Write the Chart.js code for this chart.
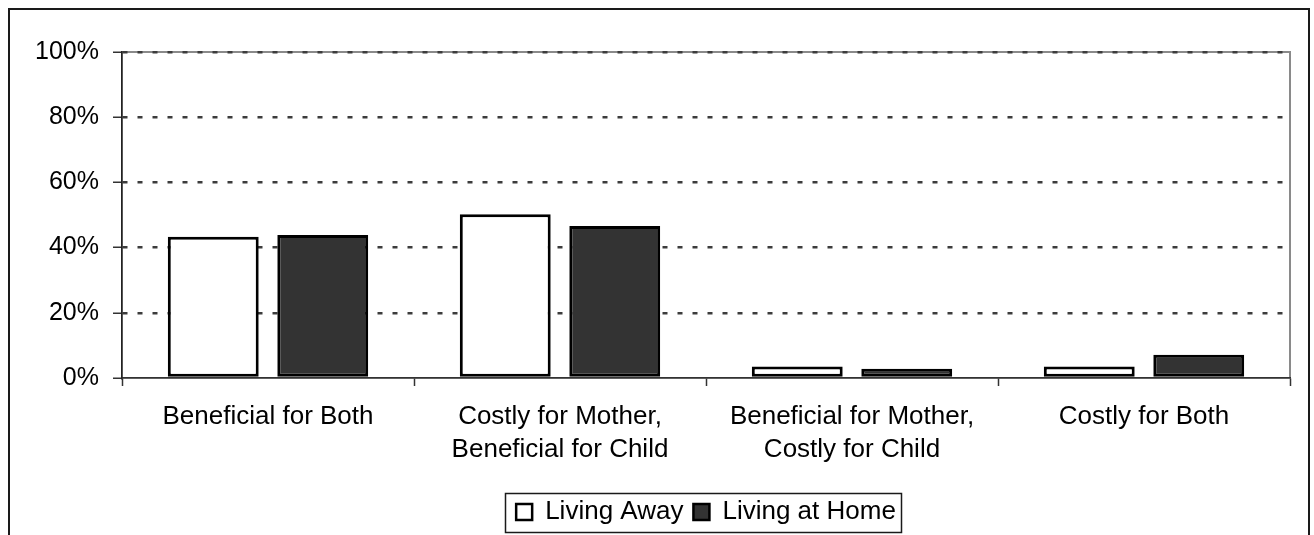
<!DOCTYPE html>
<html>
<head>
<meta charset="utf-8">
<style>
  html, body { margin: 0; padding: 0; background: #fff; overflow: hidden; }
  #wrap { width: 1314px; height: 535px; position: relative; }
</style>
<script src="https://cdn.jsdelivr.net/npm/chart.js@4/dist/chart.umd.min.js"></script>
</head>
<body>
<div id="wrap"><canvas id="c" width="1314" height="535"></canvas></div>
<script>
// Categories (multi-line labels) and shares in percent
const categories = [
  ['Beneficial for Both'],
  ['Costly for Mother,', 'Beneficial for Child'],
  ['Beneficial for Mother,', 'Costly for Child'],
  ['Costly for Both']
];
const seriesNames = ['Living Away', 'Living at Home'];
const livingAway = [43.3, 50.2, 3.5, 3.5];
const livingAtHome = [43.9, 46.6, 2.8, 7.1];
const yTicks = [0, 20, 40, 60, 80, 100];

const FAMILY = "'Liberation Sans', Arial, sans-serif";

// Outer frame, plot-area frame and the box around the legend
const framePlugin = {
  id: 'frames',
  beforeDraw(chart) {
    const { ctx, chartArea: a } = chart;
    ctx.save();
    ctx.strokeStyle = '#8a8a8a';
    ctx.lineWidth = 2;
    ctx.strokeRect(a.left, a.top, a.right - a.left, a.bottom - a.top);
    ctx.restore();
  },
  afterDraw(chart) {
    const { ctx } = chart;
    ctx.save();
    // outer border (open at the bottom edge of the canvas)
    ctx.strokeStyle = '#1a1a1a';
    ctx.lineWidth = 2;
    ctx.beginPath();
    ctx.moveTo(9, 540);
    ctx.lineTo(9, 9);
    ctx.lineTo(1309, 9);
    ctx.lineTo(1309, 540);
    ctx.stroke();
    // legend box
    const lg = chart.legend;
    if (lg && lg.legendHitBoxes && lg.legendHitBoxes.length) {
      const hb = lg.legendHitBoxes;
      const l = Math.min(...hb.map(h => h.left)) - 11;
      const r = Math.max(...hb.map(h => h.left + h.width)) + 5;
      ctx.strokeStyle = '#1a1a1a';
      ctx.lineWidth = 1.5;
      ctx.strokeRect(Math.round(l) + 0.5, lg.top + 4.5, Math.round(r - l), 39);
    }
    ctx.restore();
  }
};

new Chart(document.getElementById('c'), {
  type: 'bar',
  data: {
    labels: categories,
    datasets: [
      {
        label: seriesNames[0],
        data: livingAway,
        backgroundColor: '#ffffff',
        borderColor: '#000000',
        borderWidth: 3,
        borderSkipped: false,
        categoryPercentage: 0.75,
        barPercentage: 0.83
      },
      {
        label: seriesNames[1],
        data: livingAtHome,
        backgroundColor: '#333333',
        borderColor: '#000000',
        borderWidth: 3,
        borderSkipped: false,
        categoryPercentage: 0.75,
        barPercentage: 0.83
      }
    ]
  },
  options: {
    responsive: false,
    animation: false,
    events: [],
    layout: { padding: { left: 0, right: 24, top: 52, bottom: 0 } },
    plugins: {
      tooltip: { enabled: false },
      legend: {
        position: 'bottom',
        align: 'center',
        fullSize: false,
        labels: {
          color: '#000',
          font: { family: FAMILY, size: 26 },
          boxWidth: 16,
          boxHeight: 16,
          padding: 10,
          generateLabels(chart) {
            return chart.data.datasets.map((ds, i) => ({
              text: ds.label,
              fillStyle: ds.backgroundColor,
              strokeStyle: '#000',
              lineWidth: 2.5,
              datasetIndex: i,
              fontColor: '#000'
            }));
          }
        }
      }
    },
    scales: {
      x: {
        offset: true,
        grid: {
          display: true,
          offset: true,
          drawOnChartArea: false,
          drawTicks: true,
          tickLength: 8,
          tickColor: '#333',
          tickWidth: 1.5
        },
        border: { display: true, color: '#333', width: 1.5 },
        ticks: {
          color: '#000',
          font: { family: FAMILY, size: 26, lineHeight: 1.27 },
          padding: 14,
          maxRotation: 0,
          autoSkip: false
        },
        afterFit(scale) { scale.height = 111; }
      },
      y: {
        min: 0,
        max: 100,
        afterBuildTicks(scale) { scale.ticks = yTicks.map(v => ({ value: v })); },
        grid: {
          color: ctx => (ctx.tick && ctx.tick.value === 0) ? 'rgba(0,0,0,0)' : '#3c3c3c',
          lineWidth: 2.5,
          drawTicks: true,
          tickLength: 9,
          tickColor: '#333',
          tickWidth: 1.5,
          tickBorderDash: []
        },
        border: { display: true, color: '#222', width: 1.5, dash: [5, 10] },
        ticks: {
          color: '#000',
          font: { family: FAMILY, size: 25 },
          padding: 14,
          callback: v => v + '%'
        },
        afterFit(scale) { scale.width = 122; }
      }
    }
  },
  plugins: [framePlugin]
});
</script>
</body>
</html>
